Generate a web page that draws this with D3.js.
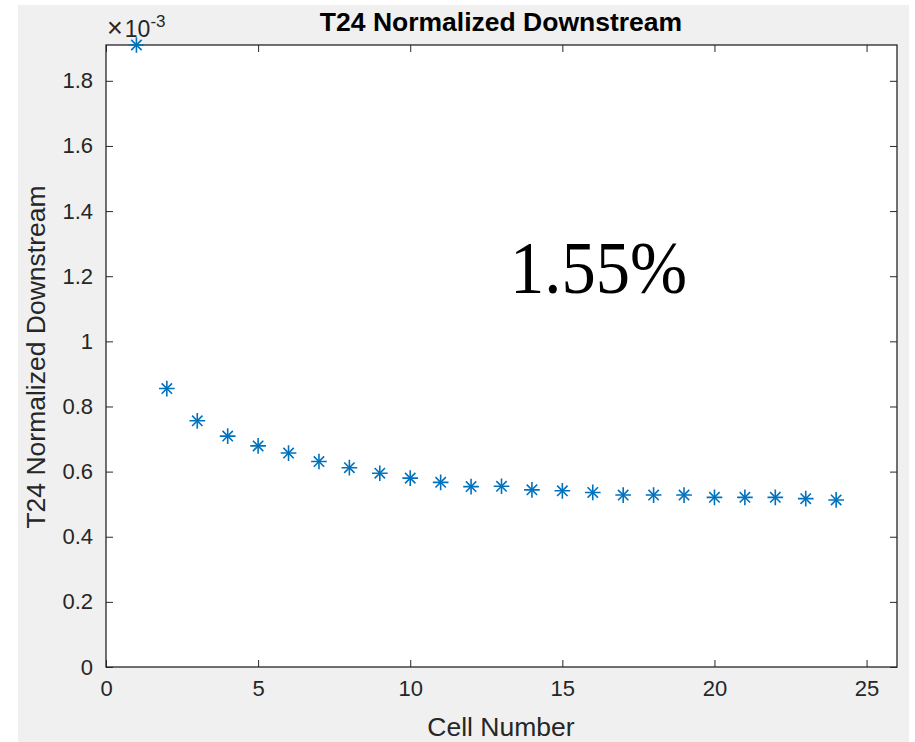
<!DOCTYPE html>
<html>
<head>
<meta charset="utf-8">
<script src="https://cdn.jsdelivr.net/npm/d3@7"></script>
<style>
  html, body { margin: 0; padding: 0; background: #ffffff; }
  svg { display: block; }
</style>
</head>
<body>
<svg id="chart" width="915" height="742"></svg>
<script>
// ---- data ----
const cellNumbers = d3.range(1, 25);
const downstreamValues = [1.91, 0.855, 0.756, 0.709, 0.679, 0.657, 0.631, 0.612, 0.595, 0.580,
                          0.567, 0.554, 0.555, 0.544, 0.541, 0.536, 0.528, 0.528, 0.528, 0.521,
                          0.521, 0.521, 0.517, 0.513]; // x 1e-3
const xTicks = [0, 5, 10, 15, 20, 25];
const yTicks = [0, 0.2, 0.4, 0.6, 0.8, 1, 1.2, 1.4, 1.6, 1.8];
const yTickLabels = ["0", "0.2", "0.4", "0.6", "0.8", "1", "1.2", "1.4", "1.6", "1.8"];
const titleText = "T24 Normalized Downstream";
const xLabelText = "Cell Number";
const yLabelText = "T24 Normalized Downstream";
const annotationText = "1.55%";

// ---- layout ----
const svg = d3.select("#chart");
const box = { left: 106, right: 897, top: 45, bottom: 667 };
const axisColor = "#262626";
const markerColor = "#0072bd";
const font = "'Liberation Sans', Arial, Helvetica, sans-serif";

svg.append("rect").attr("x", 0).attr("y", 0).attr("width", 915).attr("height", 742).attr("fill", "#ffffff");
svg.append("rect").attr("x", 18).attr("y", 5).attr("width", 891).attr("height", 737).attr("fill", "#f0f0f0");
svg.append("rect").attr("x", box.left).attr("y", box.top)
  .attr("width", box.right - box.left).attr("height", box.bottom - box.top).attr("fill", "#ffffff");

const x = d3.scaleLinear().domain([0, 26]).range([box.left, box.right]);
const y = d3.scaleLinear().domain([0, 1.91]).range([box.bottom, box.top]);

function styleAxis(g) {
  g.select(".domain").remove();
  g.selectAll(".tick line").attr("stroke", axisColor).attr("stroke-width", 1);
  g.selectAll(".tick text").attr("fill", axisColor).attr("font-family", font).attr("font-size", 22);
}

// bottom axis
svg.append("g").attr("transform", `translate(0,${box.bottom})`)
  .call(d3.axisBottom(x).tickValues(xTicks).tickSize(-7).tickPadding(13).tickFormat(d3.format("d")))
  .call(styleAxis);
// top axis
svg.append("g").attr("transform", `translate(0,${box.top})`)
  .call(d3.axisTop(x).tickValues(xTicks).tickSize(-7).tickFormat(""))
  .call(styleAxis);
// left axis
svg.append("g").attr("transform", `translate(${box.left},0)`)
  .call(d3.axisLeft(y).tickValues(yTicks).tickSize(-7).tickPadding(13).tickFormat((d, i) => yTickLabels[i]))
  .call(styleAxis);
// right axis
svg.append("g").attr("transform", `translate(${box.right},0)`)
  .call(d3.axisRight(y).tickValues(yTicks).tickSize(-7).tickFormat(""))
  .call(styleAxis);

// frame
svg.append("rect").attr("x", box.left).attr("y", box.top)
  .attr("width", box.right - box.left).attr("height", box.bottom - box.top)
  .attr("fill", "none").attr("stroke", axisColor).attr("stroke-width", 1.3);

// markers (asterisk = plus + times)
const plusPath = d3.symbol().type(d3.symbolPlus).size(82)();
const timesPath = d3.symbol().type(d3.symbolTimes).size(72)();
const pts = svg.append("g").selectAll("g").data(cellNumbers).join("g")
  .attr("transform", (d, i) => `translate(${x(d)},${y(downstreamValues[i])})`);
pts.append("path").attr("d", plusPath).attr("fill", "none").attr("stroke", markerColor).attr("stroke-width", 1.6);
pts.append("path").attr("d", timesPath).attr("fill", "none").attr("stroke", markerColor).attr("stroke-width", 1.6);

// exponent label
const expo = svg.append("text").attr("x", box.left + 1).attr("y", 37)
  .attr("font-family", font).attr("font-size", 23).attr("fill", axisColor);
expo.append("tspan").attr("font-size", 27).text("\u00d7");
expo.append("tspan").attr("dx", 2).text("10");
expo.append("tspan").attr("dy", -10).attr("font-size", 17).text("-3");

// title
svg.append("text").attr("x", 501).attr("y", 31).attr("text-anchor", "middle")
  .attr("font-family", font).attr("font-weight", "bold").attr("font-size", 26.5).attr("fill", "#000000")
  .text(titleText);

// x label
svg.append("text").attr("x", 501).attr("y", 736).attr("text-anchor", "middle")
  .attr("font-family", font).attr("font-size", 26.5).attr("fill", axisColor).text(xLabelText);

// y label
svg.append("text").attr("transform", `translate(45,357) rotate(-90)`).attr("text-anchor", "middle")
  .attr("font-family", font).attr("font-size", 26.5).attr("fill", axisColor).text(yLabelText);

// annotation
svg.append("text").attr("x", 510).attr("y", 293)
  .attr("font-family", "'Liberation Serif', 'Times New Roman', serif").attr("font-size", 75)
  .attr("textLength", 177).attr("lengthAdjust", "spacingAndGlyphs")
  .attr("fill", "#000000").text(annotationText);
</script>
</body>
</html>
